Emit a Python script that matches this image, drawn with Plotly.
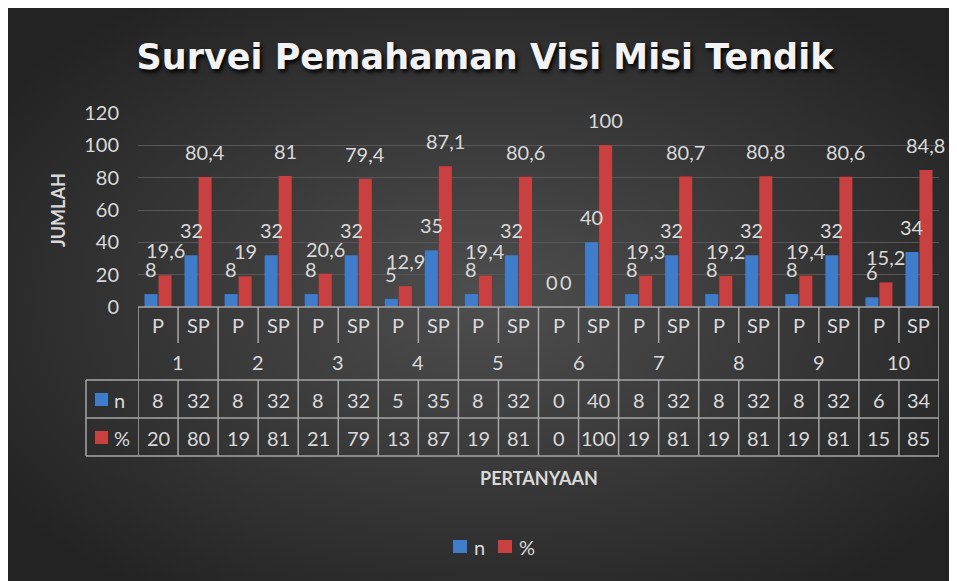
import base64
import plotly.graph_objects as go

# ---------------- data ----------------
questions = ["1", "2", "3", "4", "5", "6", "7", "8", "9", "10"]
answers = ["P", "SP"]
n_values = [8, 32, 8, 32, 8, 32, 5, 35, 8, 32, 0, 40, 8, 32, 8, 32, 8, 32, 6, 34]
pct_values = [19.6, 80.4, 19, 81, 20.6, 79.4, 12.9, 87.1, 19.4, 80.6,
              0, 100, 19.3, 80.7, 19.2, 80.8, 19.4, 80.6, 15.2, 84.8]
series_names = ["n", "%"]
y_ticks = [0, 20, 40, 60, 80, 100, 120]

title_text = "Survei Pemahaman Visi Misi Tendik"
y_title = "JUMLAH"
x_title = "PERTANYAAN"

# ---------------- styling / geometry ----------------
W_FIG, H_FIG = 957, 581
S = 8                       # page body margin in the screenshot
L, R, T, B = 138, 939, 113, 307   # plot area in screenshot pixels
PW, PH = R - L, B - T
FONT = "Lato"
TXT = "#d9d9d9"
GRID = "#575757"
TLINE = "#a6a6a6"
BLUE = "#3f7dcb"
RED = "#c8403f"
BARGAP = 0.3


def px_x(px):
    return (px - L) / PW


def px_y(py):
    return (B - py) / PH


def fmt(v):
    s = f"{v:g}"
    return s.replace(".", ",")


cats = [(q, a) for q in questions for a in answers]
xi = list(range(len(cats)))

fig = go.Figure()
fig.add_trace(go.Bar(x=xi, y=n_values, name=series_names[0], marker_color=BLUE,
                     marker_line_width=0, hoverinfo="skip"))
fig.add_trace(go.Bar(x=xi, y=pct_values, name=series_names[1], marker_color=RED,
                     marker_line_width=0, hoverinfo="skip"))

annotations = []
shapes = []

# data labels above bars
off = (1 - BARGAP) / 4
for vals, sgn in ((n_values, -1), (pct_values, 1)):
    for i, v in zip(xi, vals):
        annotations.append(dict(x=i + sgn * off, y=v, xref="x", yref="y", text=fmt(v),
                                showarrow=False, yanchor="middle", yshift=25,
                                font=dict(family=FONT, size=20, color=TXT)))

# ---------------- data table under the axis ----------------
def hline(y, x0px, x1px):
    shapes.append(dict(type="line", xref="paper", yref="paper", x0=px_x(x0px), x1=px_x(x1px),
                       y0=px_y(y), y1=px_y(y), line=dict(color=TLINE, width=1.5)))


def vline(xv, y0, y1):
    shapes.append(dict(type="line", xref="x", yref="paper", x0=xv, x1=xv,
                       y0=px_y(y0), y1=px_y(y1), line=dict(color=TLINE, width=1.5)))


hline(B, L, R)
for y in (380, 418, 456):
    hline(y, 86, R)
shapes.append(dict(type="line", xref="paper", yref="paper", x0=px_x(86), x1=px_x(86),
                   y0=px_y(380), y1=px_y(456), line=dict(color=TLINE, width=1.5)))
for k in range(len(cats) + 1):
    xb = k - 0.5
    if k % len(answers) == 0:
        vline(xb, B, 456)
    else:
        vline(xb, B, 343)
        vline(xb, 380, 456)

for i, (q, a) in zip(xi, cats):
    annotations.append(dict(x=i, y=px_y(325), xref="x", yref="paper", text=a, showarrow=False,
                            yanchor="middle", font=dict(family=FONT, size=20, color=TXT)))
for g, q in enumerate(questions):
    center = g * len(answers) + (len(answers) - 1) / 2
    annotations.append(dict(x=center, y=px_y(362), xref="x", yref="paper", text=q, showarrow=False,
                            yanchor="middle", font=dict(family=FONT, size=20, color=TXT)))
for i, v in zip(xi, n_values):
    annotations.append(dict(x=i, y=px_y(400), xref="x", yref="paper", text=str(v), showarrow=False,
                            yanchor="middle", font=dict(family=FONT, size=20, color=TXT)))
for i, v in zip(xi, pct_values):
    annotations.append(dict(x=i, y=px_y(438), xref="x", yref="paper", text=str(int(round(v))),
                            showarrow=False, yanchor="middle",
                            font=dict(family=FONT, size=20, color=TXT)))

# legend keys inside the table
for (y0, y1), col, name, cy in (((393, 406), BLUE, series_names[0], 400),
                                ((431, 444), RED, series_names[1], 438)):
    shapes.append(dict(type="rect", xref="paper", yref="paper", x0=px_x(95), x1=px_x(108),
                       y0=px_y(y1), y1=px_y(y0), fillcolor=col, line=dict(width=0)))
    annotations.append(dict(x=px_x(112), y=px_y(cy), xref="paper", yref="paper", text=name,
                            showarrow=False, xanchor="left", yanchor="middle",
                            font=dict(family=FONT, size=20, color=TXT)))

# bottom legend
for x0, col, name in ((453, BLUE, series_names[0]), (498, RED, series_names[1])):
    shapes.append(dict(type="rect", xref="paper", yref="paper", x0=px_x(x0), x1=px_x(x0 + 14),
                       y0=px_y(553), y1=px_y(540), fillcolor=col, line=dict(width=0)))
    annotations.append(dict(x=px_x(x0 + 19), y=px_y(547), xref="paper", yref="paper", text=name,
                            showarrow=False, xanchor="left", yanchor="middle",
                            font=dict(family=FONT, size=20, color=TXT)))

# axis titles
annotations.append(dict(x=px_x(45), y=px_y(210), xref="paper", yref="paper", text=y_title,
                        textangle=-90, showarrow=False,
                        font=dict(family=FONT, size=18, color=TXT, weight="bold")))
annotations.append(dict(x=px_x(539), y=px_y(478), xref="paper", yref="paper", text=x_title,
                        showarrow=False, yanchor="middle",
                        font=dict(family=FONT, size=18, color=TXT, weight="bold")))

# background gradient image covering the whole figure
svg = ('<svg xmlns="http://www.w3.org/2000/svg" width="957" height="581" viewBox="0 0 957 581" '
       'preserveAspectRatio="none"><defs><radialGradient id="g" cx="50%" cy="50%" r="62%">'
       '<stop offset="0" stop-color="#4e4e4e"/><stop offset="1" stop-color="#232323"/>'
       '</radialGradient></defs><rect width="957" height="581" fill="url(#g)"/></svg>')
src = "data:image/svg+xml;base64," + base64.b64encode(svg.encode()).decode()

fig.update_layout(
    width=W_FIG, height=H_FIG,
    margin=dict(l=L - S, r=W_FIG - (R - S), t=T - S, b=H_FIG - (B - S), autoexpand=False),
    paper_bgcolor="#333333", plot_bgcolor="rgba(0,0,0,0)",
    barmode="group", bargap=BARGAP, bargroupgap=0.07,
    title=dict(text=title_text, x=(485 - S) / W_FIG, xanchor="center",
               y=1 - (57 - S) / H_FIG, yanchor="middle",
               font=dict(family="DejaVu Sans", size=35, color="#f2f2f2", weight="bold",
                         shadow="2px 3px 4px #000000")),
    xaxis=dict(range=[-0.5, len(cats) - 0.5], showticklabels=False, showgrid=False,
               zeroline=False, ticks="", fixedrange=True),
    yaxis=dict(range=[0, 120], tickvals=y_ticks, showgrid=True, gridcolor=GRID, gridwidth=1,
               zeroline=False, ticks="", ticklabelstandoff=18,
               tickfont=dict(family=FONT, size=20, color=TXT)),
    showlegend=False,
    annotations=annotations,
    shapes=shapes,
    images=[dict(source=src, xref="paper", yref="paper", x=px_x(S), y=px_y(S),
                 sizex=W_FIG / PW, sizey=H_FIG / PH, xanchor="left",
                 yanchor="top", sizing="stretch", layer="below")],
)

fig.write_html("out.html")
